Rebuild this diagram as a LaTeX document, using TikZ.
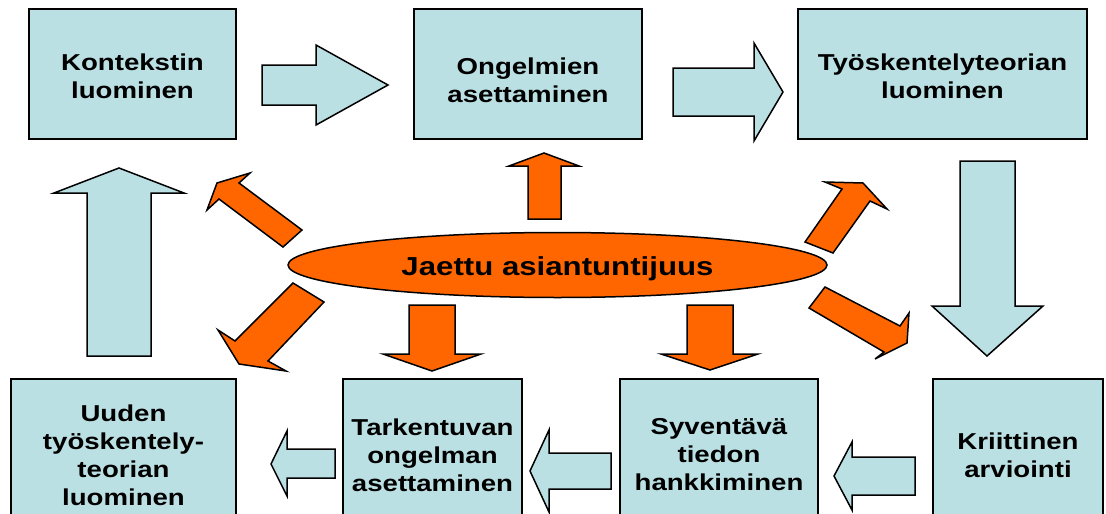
\documentclass[tikz,border=0pt]{standalone}
\usepackage{fontspec}
\setmainfont{Liberation Sans}[FakeStretch=1.2]
\usetikzlibrary{shapes.geometric}
\definecolor{boxblue}{RGB}{187,224,227}
\definecolor{shareorange}{RGB}{255,102,0}
\begin{document}
\begin{tikzpicture}[x=1pt,y=-1pt,
  stage/.style={draw=black, line width=1.5pt, fill=boxblue, align=center,
    inner sep=0pt, font=\bfseries\fontsize{23}{28}\selectfont},
  flow/.style={draw=black, line width=1.5pt, fill=boxblue, line join=miter},
  share/.style={draw=black, line width=1.5pt, fill=shareorange, line join=miter}]
\useasboundingbox (0,0) rectangle (1106,514);
\clip (0,0) rectangle (1106,514);

% top row of stages
\node[stage, minimum width=207pt, minimum height=130pt] (ctx) at (132.5,74) {\rule{0pt}{21pt}Kontekstin\\luominen};
\node[stage, minimum width=228pt, minimum height=130pt] (prob) at (528,74) {\rule{0pt}{29pt}Ongelmien\\asettaminen};
\node[stage, minimum width=289pt, minimum height=130pt] (theory) at (942.5,74) {\rule{0pt}{21pt}Työskentelyteorian\\luominen};

% bottom row of stages
\node[stage, minimum width=225pt, minimum height=152pt] (newtheory) at (123.5,455) {Uuden\\työskentely-\\teorian\\luominen};
\node[stage, minimum width=179pt, minimum height=152pt] (refine) at (432.5,455) {Tarkentuvan\\ongelman\\asettaminen};
\node[stage, minimum width=198pt, minimum height=152pt] (inquiry) at (719,455) {Syventävä\\tiedon\\hankkiminen};
\node[stage, minimum width=170pt, minimum height=152pt] (critic) at (1018,455) {Kriittinen\\arviointi};

% block arrows of the cycle
\draw[flow] (262,65) -- (316,65) -- (316,45) -- (388,85) -- (316,125) -- (316,105) -- (262,105) -- cycle;
\draw[flow] (673,68) -- (754,68) -- (754,43) -- (783,92) -- (754,141) -- (754,116) -- (673,116) -- cycle;
\draw[flow] (960,161) -- (1015,161) -- (1015,306) -- (1043,306) -- (987,356) -- (932,306) -- (960,306) -- cycle;
\draw[flow] (915,457) -- (852,457) -- (852,442) -- (834,476) -- (852,510) -- (852,495) -- (915,495) -- cycle;
\draw[flow] (611,453) -- (549,453) -- (549,430) -- (530,471) -- (549,512) -- (549,489) -- (611,489) -- cycle;
\draw[flow] (335,449) -- (287,449) -- (287,431) -- (271,464) -- (287,496) -- (287,478) -- (335,478) -- cycle;
\draw[flow] (87,356) -- (87,193) -- (54,193) -- (119,168) -- (184,193) -- (151,193) -- (151,356) -- cycle;

% shared expertise in the middle
\node[share, ellipse, minimum width=539pt, minimum height=65pt, inner sep=0pt,
  font=\bfseries\fontsize{26}{30}\selectfont] (core) at (557.5,265) {\rule{0pt}{27pt}Jaettu asiantuntijuus};

% arrows radiating from the shared expertise
\draw[share] (528,219) -- (528,166) -- (509,166) -- (544,153) -- (579,166) -- (561,166) -- (561,219) -- cycle;
\draw[share] (409,305) -- (455,305) -- (455,354) -- (481,354) -- (432,371) -- (383,354) -- (409,354) -- cycle;
\draw[share] (687,305) -- (733,305) -- (733,354) -- (758,354) -- (710,370) -- (661,354) -- (687,354) -- cycle;
\draw[share] (302,230) -- (239,183) -- (250,173) -- (217,183) -- (207,210) -- (219,199) -- (283,247) -- cycle;
\draw[share] (293,283) -- (324,302) -- (268,361) -- (286,371) -- (239,364) -- (218,330) -- (235,341) -- cycle;
\draw[share] (805,242) -- (842,189) -- (825,182) -- (863,183) -- (887,209) -- (870,201) -- (833,253) -- cycle;
\draw[share] (825,287) -- (900,326) -- (909,313) -- (907,343) -- (875,359) -- (884,352) -- (809,308) -- cycle;
\end{tikzpicture}
\end{document}
